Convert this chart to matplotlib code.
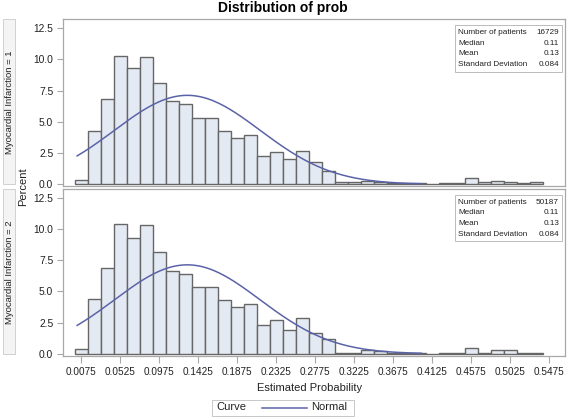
#!/usr/bin/env python3
"""Paneled histogram of estimated probability with a fitted normal curve."""

import numpy as np
import matplotlib
matplotlib.use("Agg")
import matplotlib.pyplot as plt
from matplotlib.patches import Rectangle
from matplotlib.lines import Line2D

W, H = 567, 417

plt.rcParams["font.family"] = ["Liberation Sans", "DejaVu Sans"]

BIN_WIDTH = 0.015
bin_mid = np.arange(36) * BIN_WIDTH + BIN_WIDTH / 2

# percent per bin
pct_mi1 = [0.35, 4.3, 6.86, 10.28, 9.29, 10.2, 8.09, 6.65, 6.41, 5.34, 5.34, 4.25,
           3.74, 3.95, 2.27, 2.62, 2.0, 2.70, 1.76, 1.1, 0.16, 0.16, 0.3, 0.19,
           0.1, 0.08, 0.08, 0.0, 0.08, 0.08, 0.5, 0.16, 0.3, 0.21, 0.08, 0.16]
pct_mi2 = [0.4, 4.36, 6.9, 10.36, 9.31, 10.28, 8.14, 6.66, 6.42, 5.35, 5.35, 4.34,
           3.75, 4.01, 2.3, 2.68, 1.87, 2.89, 1.66, 1.2, 0.1, 0.1, 0.3, 0.2,
           0.05, 0.03, 0.03, 0.0, 0.03, 0.1, 0.45, 0.1, 0.27, 0.27, 0.1, 0.1]

panel_labels = ["Myocardial Infarction = 1", "Myocardial Infarction = 2"]
n_patients = [16729, 50187]
median = [0.11, 0.11]
mean = [0.13, 0.13]
std = [0.084, 0.084]

x_ticks = [0.0075, 0.0525, 0.0975, 0.1425, 0.1875, 0.2325, 0.2775, 0.3225,
           0.3675, 0.4125, 0.4575, 0.5025, 0.5475]
y_ticks = [0.0, 2.5, 5.0, 7.5, 10.0, 12.5]

BAR_FILL = "#E4EAF3"
BAR_EDGE = "#666666"
CURVE = "#5B63A8"
FRAME = "#A8A8A8"
TXT = "#222222"


def fx(px):
    return px / W


def fy(py):
    return 1 - py / H


fig = plt.figure(figsize=(W / 100, H / 100), dpi=100)

# panel extents in pixels (top, bottom)
panels = [(19, 186), (188.5, 355.5)]
left_px, right_px = 63, 565

for i, (top, bot) in enumerate(panels):
    ax = fig.add_axes([fx(left_px), fy(bot), fx(right_px - left_px), (bot - top) / H])
    pct = pct_mi1 if i == 0 else pct_mi2
    ax.bar(bin_mid, pct, width=BIN_WIDTH, color=BAR_FILL, edgecolor=BAR_EDGE,
           linewidth=1.0, zorder=2)

    xs = np.linspace(0.003, 0.40, 200)
    ys = 100 * BIN_WIDTH / (std[i] * np.sqrt(2 * np.pi)) * np.exp(-0.5 * ((xs - mean[i]) / std[i]) ** 2)
    ax.plot(xs, ys, color=CURVE, lw=1.1, zorder=3)

    ax.set_xlim(-0.0133, 0.5655)
    ax.set_ylim(-0.14, 13.24)
    ax.set_yticks(y_ticks)
    ax.set_yticklabels([f"{v:.1f}" for v in y_ticks])
    ax.set_xticks(x_ticks)
    for s in ax.spines.values():
        s.set_color(FRAME)
        s.set_linewidth(0.9)
    ax.tick_params(axis="y", direction="out", length=4, width=0.8, color=FRAME,
                   labelsize=7.4, labelcolor=TXT, pad=3)
    if i == 0:
        ax.tick_params(axis="x", length=0, labelbottom=False)
    else:
        ax.set_xticklabels([f"{v:.4f}" for v in x_ticks])
        ax.tick_params(axis="x", direction="out", length=5, width=0.8, color=FRAME,
                       labelsize=7.2, labelcolor=TXT, pad=3)

    # stats inset
    bx0, bx1 = 455, 561.5
    by0 = top + 6
    fig.patches.append(Rectangle((fx(bx0), fy(by0 + 47)), fx(bx1 - bx0), 47 / H,
                                 transform=fig.transFigure, facecolor="white",
                                 edgecolor="#BBBBBB", linewidth=0.7, zorder=5))
    rows = [("Number of patients", f"{n_patients[i]}"),
            ("Median", f"{median[i]:.2f}"),
            ("Mean", f"{mean[i]:.2f}"),
            ("Standard Deviation", f"{std[i]:.3f}")]
    for r, (lab, val) in enumerate(rows):
        yy = fy(by0 + 7.5 + r * 10.7)
        fig.text(fx(bx0 + 3), yy, lab, fontsize=5.9, color=TXT, va="center",
                 ha="left", zorder=6)
        fig.text(fx(bx1 - 2.5), yy, val, fontsize=5.9, color=TXT, va="center",
                 ha="right", zorder=6)

    # row header strip
    fig.patches.append(Rectangle((fx(3), fy(bot - 2)), fx(12), (bot - 2 - top) / H,
                                 transform=fig.transFigure, facecolor="#F4F4F4",
                                 edgecolor="#D0D0D0", linewidth=0.7))
    fig.text(fx(9.5), fy((top + bot) / 2), panel_labels[i], rotation=90, fontsize=6.8,
             color=TXT, ha="center", va="center")

fig.text(fx(23), fy(187), "Percent", rotation=90, fontsize=8, color=TXT,
         ha="center", va="center")
fig.text(fx(283), fy(8), "Distribution of prob", fontsize=10, fontweight="bold",
         color="black", ha="center", va="center")
fig.text(fx(310), fy(388), "Estimated Probability", fontsize=8, color=TXT,
         ha="center", va="center")

# legend
fig.patches.append(Rectangle((fx(211.5), fy(416)), fx(142.5), 16.5 / H,
                             transform=fig.transFigure, facecolor="white",
                             edgecolor="#C8C8C8", linewidth=0.7))
fig.text(fx(216.5), fy(407.5), "Curve", fontsize=8, color=TXT, ha="left", va="center")
fig.lines.append(Line2D([fx(262), fx(307)], [fy(407.5), fy(407.5)],
                        transform=fig.transFigure, color=CURVE, lw=1.1))
fig.text(fx(311.5), fy(407.5), "Normal", fontsize=8, color=TXT, ha="left", va="center")

fig.savefig("out.png", dpi=100)
